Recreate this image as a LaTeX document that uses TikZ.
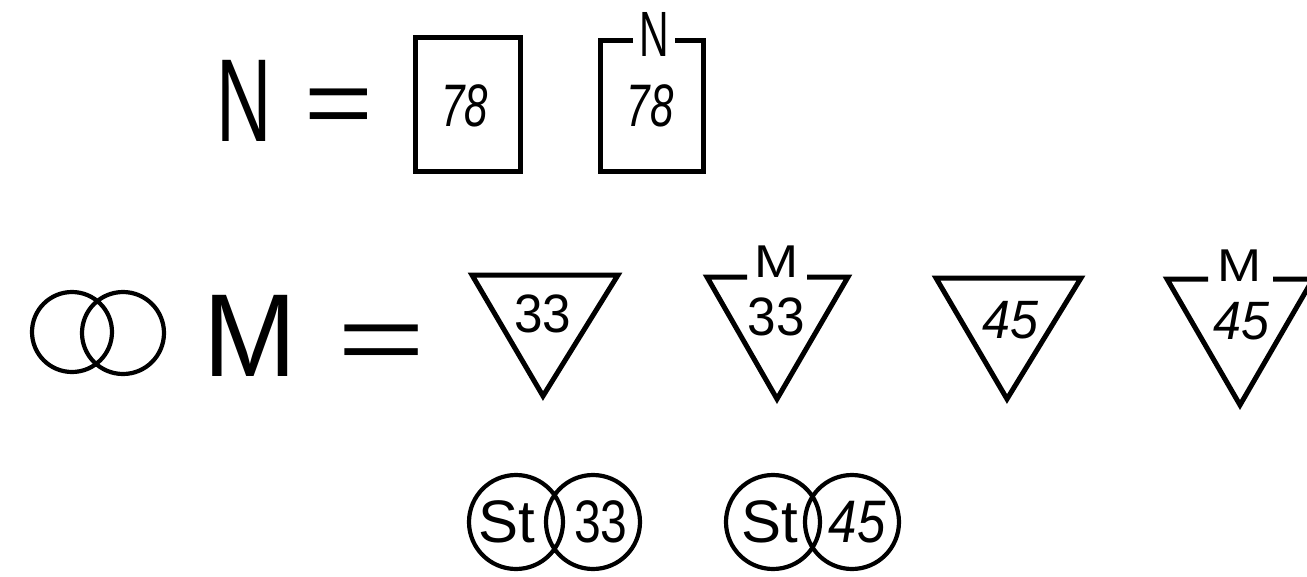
\documentclass[tikz,border=0pt]{standalone}
\usepackage{fontspec}
\setmainfont{Liberation Sans}
\usepackage{graphicx}
\usetikzlibrary{positioning}
\newcommand{\hsq}[2]{\scalebox{#1}[1]{#2}}

\begin{document}
\begin{tikzpicture}[x=1pt, y=-1pt, line width=5pt,
  every node/.style={inner sep=0pt},
  big/.style={font=\fontsize{118}{120}\selectfont},
  eq/.style={font=\fontsize{95}{96}\selectfont, anchor=base},
  num/.style={font=\fontsize{60}{62}\selectfont},
  tnum/.style={font=\fontsize{54}{56}\selectfont},
  cnum/.style={font=\fontsize{60}{62}\selectfont},
  tag/.style={font=\fontsize{46}{48}\selectfont},
  ring/.style={line width=4.2pt}]
  \useasboundingbox (0,0) rectangle (1307,576);

  % row 1
  \node[big] (bigN) at (244.5,100.5) {\hsq{0.65}{N}};
  \node[eq] (eqN) at (338.5,135.5) {\hsq{1.24}{=}};
  \draw (415,37) rectangle (520,171);
  \node[num] (n78) at (465,106) {\hsq{0.7}{\itshape 78}};
  \node[font=\fontsize{64}{66}\selectfont] (tagN) at (654,34) {\hsq{0.64}{N}};
  \draw (633,40) -- (600,40) -- (600,171) -- (703,171) -- (703,40) -- (675,40);
  \node[num] (n78b) at (650,106) {\hsq{0.7}{\itshape 78}};

  % row 2
  \draw[ring] (72,332) circle (40) (123,333) circle (41);
  \node[big] (bigM) at (250.5,336) {\hsq{0.95}{M}};
  \node[eq] (eqM) at (381.5,371) {\hsq{1.59}{=}};

  \draw (472,275) -- (618,275) -- (543,396) -- cycle;
  \node[tnum] (m33) at (543,314) {\hsq{0.95}{33}};

  \node[tag] (tagM) at (777,262) {\hsq{1.15}{M}};
  \draw (747,277) -- (707,277) -- (777,399) -- (848,277) -- (807,277);
  \node[tnum] (m33b) at (776,317) {\hsq{0.95}{33}};

  \draw (936,278) -- (1081,278) -- (1007,399) -- cycle;
  \node[tnum] (m45) at (1010,320) {\hsq{0.93}{\itshape 45}};

  \node[tag] (tagMb) at (1240,266) {\hsq{1.15}{M}};
  \draw (1208,279) -- (1167,279) -- (1240,405) -- (1313,279) -- (1273,279);
  \node[tnum] (m45b) at (1241,321) {\hsq{0.93}{\itshape 45}};

  % row 3
  \draw[ring] (516,522) circle (47) (593,522) circle (47);
  \node[cnum] (st33) at (507,522) {St};
  \node[cnum] (c33) at (601,522) {\hsq{0.8}{33}};
  \draw[ring] (773,522) circle (47) (852,522) circle (47);
  \node[cnum] (st45) at (770,522) {St};
  \node[cnum] (c45) at (857,522) {\hsq{0.85}{\itshape 45}};
\end{tikzpicture}
\end{document}
